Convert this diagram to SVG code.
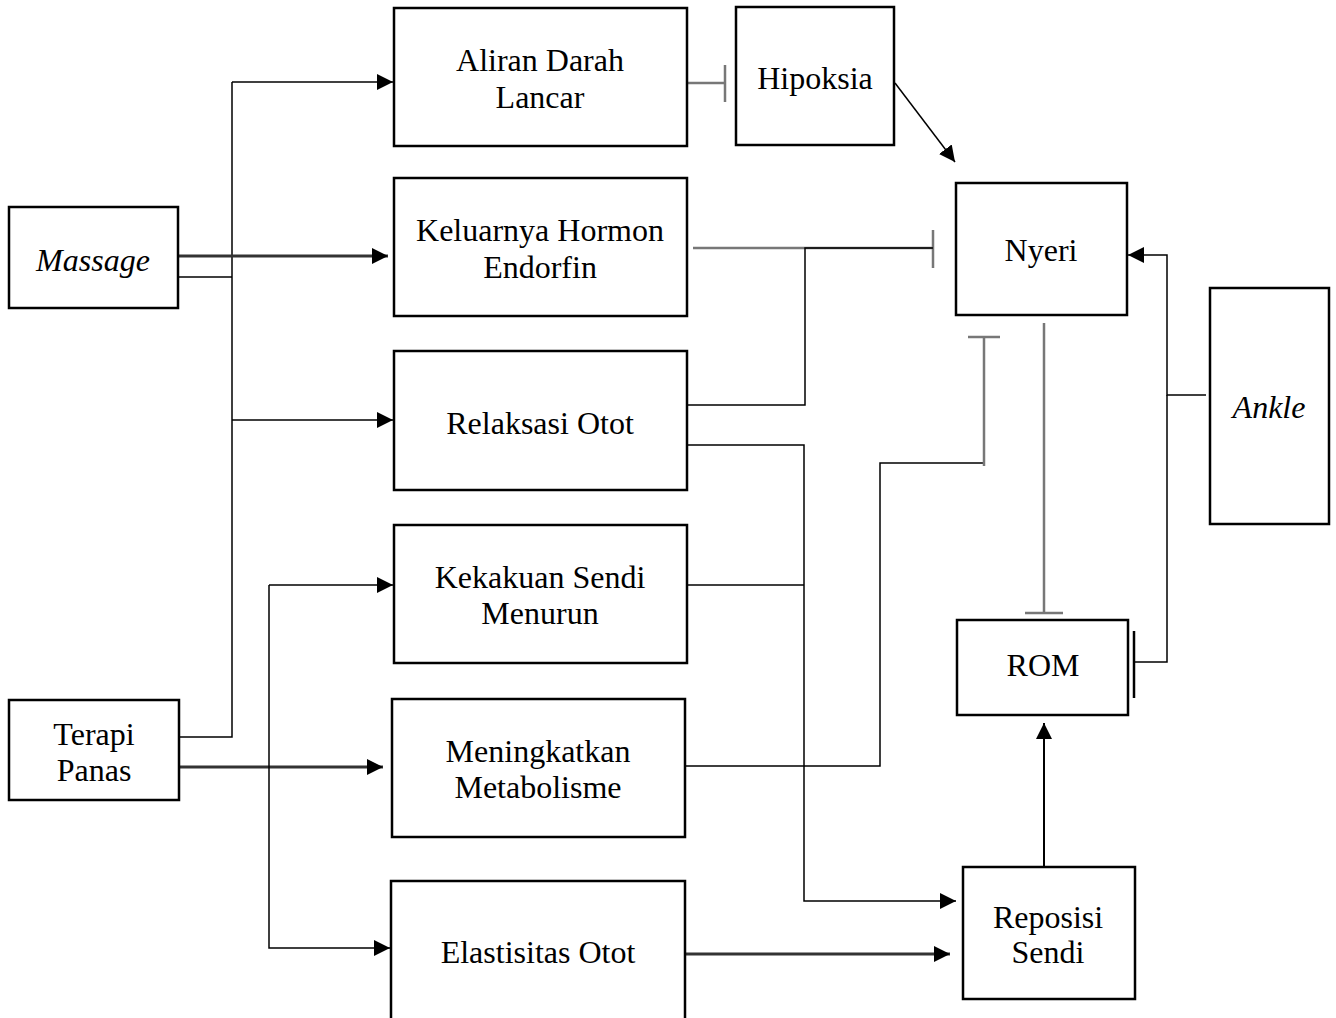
<svg xmlns="http://www.w3.org/2000/svg" width="1336" height="1018" viewBox="0 0 1336 1018">
<style>
.box{fill:#fff;stroke:#000;stroke-width:2.5}
.t{font-family:"Liberation Serif","Times New Roman",serif;font-size:32px;fill:#000;text-anchor:middle}
.i{font-style:italic}
.c{fill:none;stroke:#000;stroke-width:1.5}
.g{fill:none;stroke:#777;stroke-width:2.5}
.k{fill:none;stroke:#333;stroke-width:3}
</style>
<defs>
<marker id="b" viewBox="0 0 10 10" refX="10" refY="5" markerWidth="16" markerHeight="16" markerUnits="userSpaceOnUse" orient="auto"><path d="M0,0L10,5L0,10z" fill="#000"/></marker>
</defs>
<rect width="1336" height="1018" fill="#fff"/>
<g id="connectors">
<path class="c" d="M232,82V737H179"/>
<path class="c" d="M232,82H393" marker-end="url(#b)"/>
<path class="c" d="M178,277H232"/>
<path class="c" d="M232,420H393" marker-end="url(#b)"/>
<path class="k" d="M178,256H388" marker-end="url(#b)"/>
<path class="k" d="M179,767H383" marker-end="url(#b)"/>
<path class="c" d="M269,585V948H390" marker-end="url(#b)"/>
<path class="c" d="M269,585H393" marker-end="url(#b)"/>
<path class="g" d="M687,83H725M725,65V102"/>
<path class="c" d="M895,83L955,162" marker-end="url(#b)"/>
<path class="g" d="M693,248H933M933,230V268"/>
<path class="c" d="M687,405H805V248H933"/>
<path class="c" d="M687,445H804V901H956" marker-end="url(#b)"/>
<path class="c" d="M687,585H804"/>
<path class="c" d="M685,766H880V463H984"/>
<path class="g" d="M984,466V337M968,337H1000"/>
<path class="g" d="M1044,323V613M1025,613H1063"/>
<path class="c" d="M1206,395H1167V255H1128" marker-end="url(#b)"/>
<path class="c" d="M1167,395V662H1134"/>
<path class="c" d="M1134,631V698" style="stroke-width:2.5"/>
<path class="c" d="M1044,867V723" marker-end="url(#b)" style="stroke-width:2"/>
<path class="k" d="M685,954H950" marker-end="url(#b)"/>
</g>
<g id="massage"><rect class="box" x="9" y="207" width="169" height="101"/><text class="t i" x="93" y="271">Massage</text></g>
<g id="terapi"><rect class="box" x="9" y="700" width="170" height="100"/><text class="t" x="94" y="745">Terapi</text><text class="t" x="94" y="781">Panas</text></g>
<g id="aliran"><rect class="box" x="394" y="8" width="293" height="138"/><text class="t" x="540" y="71">Aliran Darah</text><text class="t" x="540" y="108">Lancar</text></g>
<g id="keluarnya"><rect class="box" x="394" y="178" width="293" height="138"/><text class="t" x="540" y="241">Keluarnya Hormon</text><text class="t" x="540" y="278">Endorfin</text></g>
<g id="relaksasi"><rect class="box" x="394" y="351" width="293" height="139"/><text class="t" x="540" y="434">Relaksasi Otot</text></g>
<g id="kekakuan"><rect class="box" x="394" y="525" width="293" height="138"/><text class="t" x="540" y="588">Kekakuan Sendi</text><text class="t" x="540" y="624">Menurun</text></g>
<g id="meningkatkan"><rect class="box" x="392" y="699" width="293" height="138"/><text class="t" x="538" y="762">Meningkatkan</text><text class="t" x="538" y="798">Metabolisme</text></g>
<g id="elastisitas"><rect class="box" x="391" y="881" width="294" height="150"/><text class="t" x="538" y="963">Elastisitas Otot</text></g>
<g id="hipoksia"><rect class="box" x="736" y="7" width="158" height="138"/><text class="t" x="815" y="89">Hipoksia</text></g>
<g id="nyeri"><rect class="box" x="956" y="183" width="171" height="132"/><text class="t" x="1041" y="261">Nyeri</text></g>
<g id="ankle"><rect class="box" x="1210" y="288" width="119" height="236"/><text class="t i" x="1269" y="418">Ankle</text></g>
<g id="rom"><rect class="box" x="957" y="620" width="171" height="95"/><text class="t" x="1043" y="676">ROM</text></g>
<g id="reposisi"><rect class="box" x="963" y="867" width="172" height="132"/><text class="t" x="1048" y="928">Reposisi</text><text class="t" x="1048" y="963">Sendi</text></g>
</svg>
